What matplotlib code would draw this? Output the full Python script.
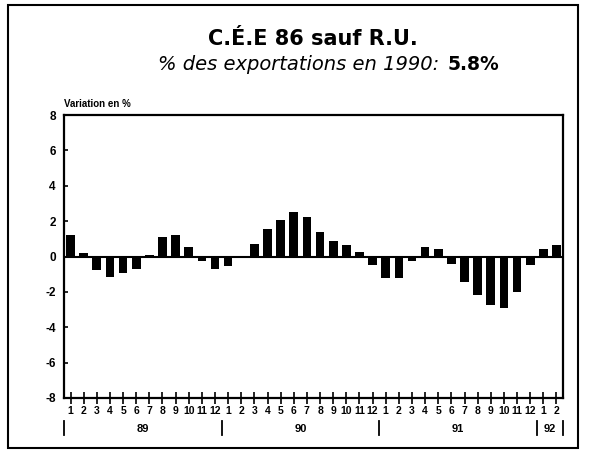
import matplotlib.pyplot as plt
import matplotlib.transforms as mtransforms
from matplotlib.patches import Rectangle

plt.rcParams['font.family'] = ['Liberation Sans', 'DejaVu Sans']

# monthly variation in %, Jan 89 .. Feb 92
months = [str(m) for m in range(1, 13)] * 3 + ['1', '2']
values = [1.19, 0.17, -0.77, -1.15, -0.96, -0.73, 0.11, 1.11, 1.19, 0.53, -0.23, -0.70,
          -0.55, -0.05, 0.68, 1.53, 2.09, 2.50, 2.24, 1.39, 0.87, 0.64, 0.26, -0.49,
          -1.22, -1.19, -0.28, 0.53, 0.45, -0.41, -1.43, -2.20, -2.77, -2.90, -1.98, -0.49,
          0.43, 0.66]
years = ['89', '90', '91', '92']
year_centers = [5.5, 17.5, 29.5, 36.5]
year_bounds = [-0.5, 11.5, 23.5, 35.5, 37.5]
yticks = [8, 6, 4, 2, 0, -2, -4, -6, -8]

fig = plt.figure(figsize=(5.92, 4.51), dpi=100)
ax = fig.add_axes([64 / 592, 53 / 451, 499 / 592, 283 / 451])

x = list(range(len(values)))
ax.bar(x, values, width=0.66, color='black')
ax.axhline(0, color='black', lw=1.5)

ax.set_xlim(-0.5, len(values) - 0.5)
ax.set_ylim(-8, 8)
ax.set_yticks(yticks)
ax.set_yticklabels([str(t) for t in yticks], fontweight='bold', fontsize=8.5)
ax.set_xticks(x)
ax.set_xticklabels(months, fontweight='bold', fontsize=7.5)
ax.tick_params(axis='x', direction='inout', length=8, width=1.2, pad=2)
ax.tick_params(axis='y', direction='in', length=3, width=1.2, pad=6)
for s in ax.spines.values():
    s.set_linewidth(1.6)

trans = mtransforms.blended_transform_factory(ax.transData, ax.transAxes)
for b in year_bounds:
    ax.plot([b, b], [-0.08, -0.13], color='black', lw=1.3,
            transform=trans, clip_on=False)
for yr, c in zip(years, year_centers):
    ax.text(c, -0.108, yr, transform=trans, ha='center', va='center',
            fontweight='bold', fontsize=8)

ax.text(0, 1.04, 'Variation en %', transform=ax.transAxes, ha='left', va='center',
        fontweight='bold', fontsize=7)

fig.text(313 / 592, 1 - 39 / 451, 'C.É.E 86 sauf R.U.', ha='center', va='center',
         fontweight='bold', fontsize=15, family='DejaVu Sans')
fig.text(446 / 592, 1 - 65 / 451, '% des exportations en 1990: ', ha='right',
         va='center', fontstyle='italic', fontsize=14, family='DejaVu Sans')
fig.text(448 / 592, 1 - 65 / 451, '5.8%', ha='left', va='center',
         fontweight='bold', fontsize=13.5, family='DejaVu Sans')

fig.patches.append(Rectangle((8 / 592, 3 / 451), 570 / 592, 443 / 451,
                             transform=fig.transFigure, fill=False,
                             edgecolor='black', lw=1.5))

fig.savefig('out.png', dpi=100)
